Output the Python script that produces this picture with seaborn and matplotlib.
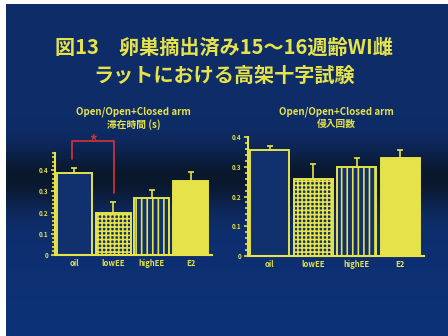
import numpy as np
import pandas as pd
import matplotlib
matplotlib.use("Agg")
import matplotlib.pyplot as plt
import seaborn as sns
from matplotlib.ticker import MultipleLocator

sns.set_theme(style="white")
plt.rcParams['font.family'] = ['Noto Sans CJK JP', 'DejaVu Sans']
plt.rcParams['hatch.linewidth'] = 1.2

groups = ["oil", "lowEE", "highEE", "E2"]
stay_ratio = [0.385, 0.197, 0.270, 0.350]
stay_err = [0.025, 0.053, 0.036, 0.040]
entry_ratio = [0.357, 0.260, 0.300, 0.330]
entry_err = [0.013, 0.050, 0.030, 0.027]

title_lines = ["図13　卵巣摘出済み15～16週齢WI雌", "ラットにおける高架十字試験"]
left_title = ["Open/Open+Closed arm", "滞在時間 (s)"]
right_title = ["Open/Open+Closed arm", "侵入回数"]

YELLOW = "#e6e24a"
NAVY = "#10306e"
RED = "#c8323a"

fig = plt.figure(figsize=(4.48, 3.36), dpi=100)

# slide background: navy with a darker band through the middle
bg = fig.add_axes([0, 0, 1, 1], zorder=-10)
rows = np.linspace(0, 1, 336)
top = np.array([14, 45, 105]) / 255
mid = np.array([10, 24, 45]) / 255
bot = np.array([14, 50, 120]) / 255
band = np.exp(-((rows - 0.53) / 0.09) ** 2)
frac = np.clip((rows[:, None] - 0.5) / 0.5, 0, 1)
base = top + (bot - top) * frac
col = base * (1 - band[:, None]) + mid * band[:, None]
img = np.repeat(col[:, None, :], 448, axis=1)
img[:4, :, :] = 1.0
img[:, :6, :] = 1.0
bg.imshow(img, aspect="auto", extent=[0, 448, 336, 0])
bg.set_xlim(0, 448)
bg.set_ylim(336, 0)
bg.axis("off")

fig.text(0.5, 1 - 47 / 336, title_lines[0], ha="center", va="center",
         color=YELLOW, fontsize=14.5, fontweight="bold")
fig.text(0.5, 1 - 75 / 336, title_lines[1], ha="center", va="center",
         color=YELLOW, fontsize=14.5, fontweight="bold")

styles = [dict(color=NAVY, hatch=None), dict(color=NAVY, hatch="++++"),
          dict(color=NAVY, hatch="|||"), dict(color=YELLOW, hatch=None)]


def panel(rect, values, errs, ymax, title):
    ax = fig.add_axes(rect)
    ax.set_facecolor("none")
    df = pd.DataFrame({"group": groups, "value": values})
    sns.barplot(data=df, x="group", y="value", ax=ax, width=0.9,
                color=NAVY, edgecolor=YELLOW, linewidth=1.4, errorbar=None)
    for patch, st in zip(ax.patches, styles):
        patch.set_facecolor(st["color"])
        patch.set_edgecolor(YELLOW)
        if st["hatch"]:
            patch.set_hatch(st["hatch"])
    ax.errorbar(range(len(groups)), values, yerr=[np.zeros(len(errs)), errs],
                fmt="none", ecolor=YELLOW, elinewidth=1.2, capsize=2, capthick=1.2)
    ax.set_xlim(-0.5, 3.55)
    ax.set_ylim(0, ymax)
    ax.set_xlabel("")
    ax.set_ylabel("")
    for s in ["top", "right"]:
        ax.spines[s].set_visible(False)
    for s in ["left", "bottom"]:
        ax.spines[s].set_color(YELLOW)
        ax.spines[s].set_linewidth(1.5)
    ax.yaxis.set_major_locator(MultipleLocator(0.1))
    ax.yaxis.set_minor_locator(MultipleLocator(0.02))
    ax.yaxis.set_major_formatter(plt.FuncFormatter(lambda v, p: "0" if v == 0 else f"{v:.1f}"))
    ax.tick_params(axis="y", which="both", left=True, colors=YELLOW, direction="out",
                   length=3, width=1.2, labelsize=4.5, pad=2)
    ax.tick_params(axis="y", which="minor", length=2)
    ax.tick_params(axis="x", colors=YELLOW, length=0, labelsize=5.5, pad=3)
    for lbl in ax.get_xticklabels() + ax.get_yticklabels():
        lbl.set_fontweight("bold")
    ax.set_title(title[0] + "\n" + title[1], color=YELLOW, fontsize=7,
                 fontweight="bold", pad=18 if ymax > 0.45 else 7, linespacing=1.25)
    return ax


axL = panel([55 / 448, 81 / 336, 157 / 448, 102 / 336], stay_ratio, stay_err, 0.48, left_title)
axR = panel([248 / 448, 80 / 336, 176 / 448, 119 / 336], entry_ratio, entry_err, 0.40, right_title)

# significance bracket between oil and lowEE
yb = 0.535
axL.plot([-0.05, -0.05, 1.02, 1.02], [0.45, yb, yb, 0.29], color=RED, lw=1.3,
         clip_on=False)
axL.text(0.48, yb - 0.005, "*", color=RED, ha="center", va="center",
         fontsize=11, fontweight="bold")

fig.savefig("out.png", dpi=100)
